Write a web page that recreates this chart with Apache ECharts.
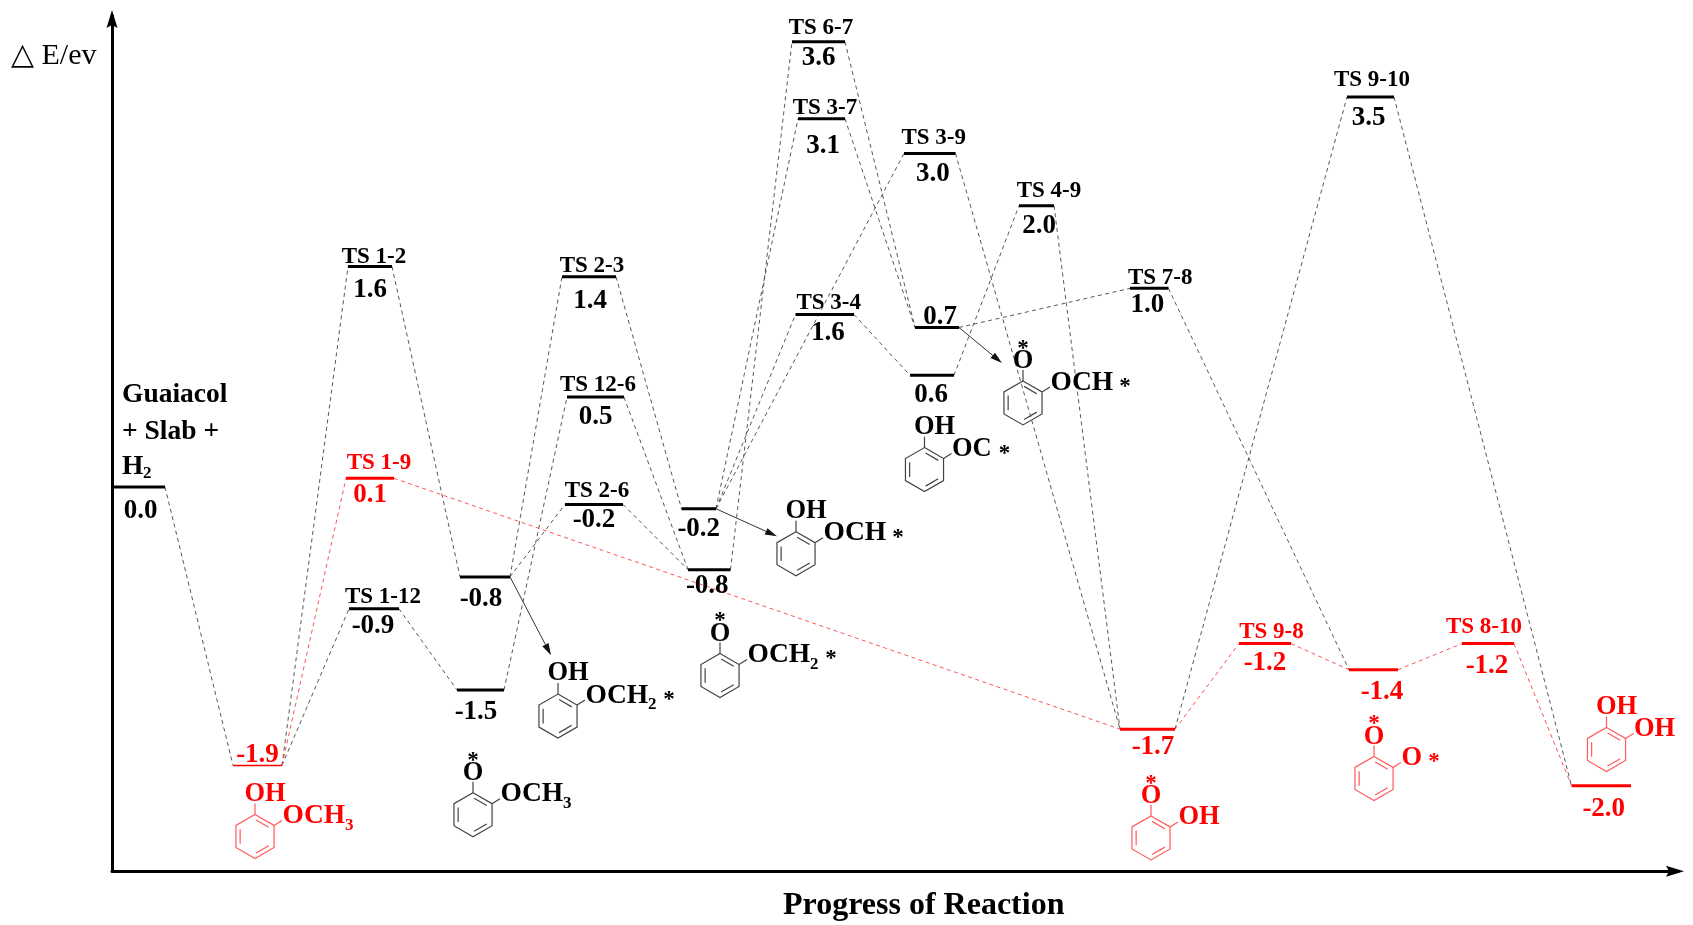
<!DOCTYPE html>
<html>
<head>
<meta charset="utf-8">
<style>html,body{margin:0;padding:0;background:#fff}#chart{width:1693px;height:925px}</style>
<script src="https://cdn.jsdelivr.net/npm/echarts@6/dist/echarts.min.js"></script>
</head>
<body>
<div id="chart"></div>
<script>
// ---------- data ----------
const levelIds = ['G','S1','TS12','TS19','TS112','S2','S12','TS23','TS126','TS26','S3','S6','TS67','TS37','TS39','TS34','S7','S4','TS49','TS78','S9','TS98','S8','TS810','TS910','S10'];
const levelNames = ['','','TS 1-2','TS 1-9','TS 1-12','','','TS 2-3','TS 12-6','TS 2-6','','','TS 6-7','TS 3-7','TS 3-9','TS 3-4','','','TS 4-9','TS 7-8','','TS 9-8','','TS 8-10','TS 9-10',''];
const energyTexts = ['0.0','-1.9','1.6','0.1','-0.9','-0.8','-1.5','1.4','0.5','-0.2','-0.2','-0.8','3.6','3.1','3.0','1.6','0.7','0.6','2.0','1.0','-1.7','-1.2','-1.4','-1.2','3.5','-2.0'];
const progressStart = [0,121,236,234,237,348,345,450,455,453,569.5,576,680,686,792,683.5,803,798,907,1018,1008,1127,1237,1350,1235,1459.5];
const progressEnd = [53,170,280,282,287,398,392,504,512,511,604,618.5,733,733,843.5,742,847,842,942,1056.5,1063,1179,1286,1402,1282,1519];
const drawnEnergy = [0,-1.92,1.52,0.06,-0.84,-0.62,-1.40,1.45,0.62,-0.12,-0.15,-0.57,3.07,2.54,2.30,1.19,1.10,0.77,1.94,1.37,-1.67,-1.08,-1.26,-1.08,2.69,-2.06];
const redLevels = ['S1','TS19','S9','TS98','S8','TS810','S10'];

const blackEdgeFrom = ['G','S1','S1','TS112','TS12','S2','S2','S12','TS23','TS26','TS126','S3','S3','S3','S6','TS67','TS37','TS34','TS39','S4','TS49','S7','TS78','S9','TS910'];
const blackEdgeTo   = ['S1','TS12','TS112','S12','S2','TS23','TS26','TS126','S3','S6','S6','TS37','TS34','TS39','TS67','S7','S7','S4','S9','TS49','S9','TS78','S8','TS910','S10'];
const redEdgeFrom = ['S1','TS19','S9','TS98','S8','TS810'];
const redEdgeTo   = ['TS19','S9','TS98','S8','TS810','S10'];

const moleculeX = [143,361,446,608,684,812.5,911,1039,1262,1494.5];
const moleculeY = [-2.41,-2.26,-1.58,-1.30,-0.46,0.12,0.58,-2.42,-2.01,-1.81];
const moleculeTop = ['OH','O','OH','O','OH','OH','O','O','O','OH'];
const moleculeSide = ['OCH','OCH','OCH','OCH','OCH','OC','OCH','OH','O','OH'];
const moleculeSub = ['3','3','2','2','','','','','',''];
const moleculeStar = [false,false,true,true,true,true,true,false,true,false];
const moleculeRed = [true,false,false,false,false,false,false,true,true,true];

const arrowFrom = ['S2','S3','S7'];
const arrowTipX = [439,665,890];
const arrowTipY = [-1.16,-0.34,0.855];

const axisYName = '△ E/ev';
const axisXName = 'Progress of Reaction';
const startLines = ['Guaiacol','+ Slab +','H'];
const startSub = '2';

// ---------- layout (pixel offsets from each level's centre) ----------
const nameOffset = {TS12:[4,-10],TS19:[9,-15],TS112:[9,-11.5],TS23:[3,-11],TS126:[2.5,-12],TS26:[3,-13],TS67:[2.5,-13.5],TS37:[3.5,-11],TS39:[4,-15],TS34:[4,-11],TS49:[12.5,-15],TS78:[11,-10],TS98:[6.5,-12],TS810:[-4,-17],TS910:[1.5,-17]};
const valueOffset = {G:[2,24],S1:[0,-10],TS12:[0,23],TS19:[0,17],TS112:[-1,17],S2:[-4,22],S12:[-4.5,22],TS23:[1,24],TS126:[0,20],TS26:[0,16],S3:[0,20],S6:[-2,16],TS67:[0,16],TS37:[1.5,27],TS39:[3,21],TS34:[3,19],S7:[3,-10],S4:[-1,20],TS49:[2.5,20],TS78:[-2,17],S9:[5.5,18],TS98:[0,19],S8:[8.5,22],TS810:[-1,22],TS910:[-2,21],S10:[2.5,23]};
const sideStarDx = {OC:80,O:60};
const RED = '#ff0000', BLACK = '#000000', SERIF = '"Liberation Serif","Times New Roman",serif';
const EDGE_BLACK = '#444444', EDGE_RED = '#ff4040';
const RING_BLACK = '#444444', RING_RED = '#ff5a5a';

const idx = id => levelIds.indexOf(id);
function text(t, x, y, size, color, align) {
  return {type:'text', silent:true, style:{text:t, x:x, y:y, fill:color,
    font:'bold '+size+'px '+SERIF, align:align||'center', verticalAlign:'middle'}};
}
function seg(x1,y1,x2,y2,color,w,dash){
  return {type:'line', silent:true, shape:{x1,y1,x2,y2}, style:{stroke:color, lineWidth:w, lineDash:dash||null}};
}
function edgeData(from,to){
  return from.map((f,i)=>{const a=idx(f),b=idx(to[i]);return [progressEnd[a],drawnEnergy[a],progressStart[b],drawnEnergy[b]];});
}
function edgeRender(color){
  return function(p,api){
    const a=api.coord([api.value(0),api.value(1)]), b=api.coord([api.value(2),api.value(3)]);
    return seg(a[0],a[1],b[0],b[1],color,0.9,[4,3.5]);
  };
}
function levelRender(p,api){
  const i=api.value(0), id=levelIds[i];
  const a=api.coord([api.value(1),api.value(3)]), b=api.coord([api.value(2),api.value(3)]);
  const red=redLevels.includes(id), c=red?RED:BLACK, cx=(a[0]+b[0])/2, y=a[1];
  const kids=[seg(a[0],y,b[0],y,c,id==='S1'?1.5:3)];
  if(levelNames[i]){const o=nameOffset[id];kids.push(text(levelNames[i],cx+o[0],y+o[1],23,c));}
  const v=valueOffset[id];kids.push(text(energyTexts[i],cx+v[0],y+v[1],27,c));
  if(id==='G'){
    kids.push(text(startLines[0],a[0]+10,y-92,27.5,BLACK,'left'));
    kids.push(text(startLines[1],a[0]+10,y-55,27.5,BLACK,'left'));
    kids.push(text(startLines[2],a[0]+10,y-20,27.5,BLACK,'left'));
    kids.push(text(startSub,a[0]+31,y-13,17,BLACK,'left'));
  }
  return {type:'group',children:kids};
}
function moleculeRender(p,api){
  const i=api.value(0), o=api.coord([api.value(1),api.value(2)]), cx=o[0], cy=o[1];
  const red=moleculeRed[i], c=red?RED:BLACK, rc=red?RING_RED:RING_BLACK, r=22, s=r*0.866;
  const v=[[0,-r],[s,-r/2],[s,r/2],[0,r],[-s,r/2],[-s,-r/2]].map(q=>[cx+q[0],cy+q[1]]);
  const kids=[{type:'polygon',silent:true,shape:{points:v},style:{fill:'none',stroke:rc,lineWidth:1.2}}];
  [[4,5],[0,1],[2,3]].forEach(pair=>{
    const f=0.78;
    const A=v[pair[0]], B=v[pair[1]];
    const ax=cx+(A[0]-cx)*f, ay=cy+(A[1]-cy)*f, bx=cx+(B[0]-cx)*f, by=cy+(B[1]-cy)*f;
    const mx=(ax+bx)/2, my=(ay+by)/2;
    kids.push(seg(mx+(ax-mx)*0.85,my+(ay-my)*0.85,mx+(bx-mx)*0.85,my+(by-my)*0.85,rc,1.2));
  });
  kids.push(seg(v[0][0],v[0][1],cx,cy-r-11,rc,1.2));
  kids.push(seg(v[1][0],v[1][1],cx+27,cy-r/2-5,rc,1.2));
  const top=moleculeTop[i], side=moleculeSide[i];
  if(top==='OH'){kids.push(text('OH',cx+10,cy-42.5,26.5,c));}
  else{kids.push(text('O',cx,cy-41.5,26.5,c));kids.push(text('*',cx,cy-54,23,c));}
  kids.push(text(side,cx+27.5,cy-20.5,side==='OCH'?27.5:26.5,c,'left'));
  if(moleculeSub[i]){kids.push(text(moleculeSub[i],cx+90,cy-11,17,c,'left'));}
  if(moleculeStar[i]){
    const dx=moleculeSub[i]?111:(side==='OCH'?102:sideStarDx[side]);
    kids.push(text('*',cx+dx,cy-16,23,c));
  }
  return {type:'group',children:kids};
}
function arrowRender(p,api){
  const a=api.coord([api.value(0),api.value(1)]), b=api.coord([api.value(2),api.value(3)]);
  const dx=b[0]-a[0], dy=b[1]-a[1], L=Math.hypot(dx,dy), ux=dx/L, uy=dy/L, h=12, w=3.5;
  const bx=b[0]-ux*h, by=b[1]-uy*h;
  return {type:'group',children:[
    seg(a[0],a[1],bx,by,'#333333',1),
    {type:'polygon',silent:true,shape:{points:[[b[0],b[1]],[bx-uy*w,by+ux*w],[bx+uy*w,by-ux*w]]},style:{fill:'#111111'}}
  ]};
}
// the two arrow heads closing the axes, drawn at their tip values
function axisHeadRender(p,api){
  const b=api.coord([api.value(0),api.value(1)]), ux=api.value(2), uy=api.value(3), h=18, w=5.5, n=15;
  const bx=b[0]-ux*h, by=b[1]-uy*h;
  return {type:'polygon',silent:true,shape:{points:[[b[0],b[1]],[bx-uy*w,by+ux*w],[b[0]-ux*n,b[1]-uy*n],[bx+uy*w,by-ux*w]]},style:{fill:'#000000'}};
}
const axisHeads = [[1572,-2.65,1,0],[0,3.29,0,-1]];
const hiddenAxisParts = {axisTick:{show:false},axisLabel:{show:false},splitLine:{show:false}};
const chart = echarts.init(document.getElementById('chart'),null,{renderer:'canvas'});
chart.setOption({
  animation:false,
  backgroundColor:'#ffffff',
  title:[
    {text:axisYName,left:6,top:36,textStyle:{fontFamily:SERIF,fontWeight:'normal',fontSize:30,color:'#000'}},
    {text:axisXName,left:778,top:885,textStyle:{fontFamily:SERIF,fontWeight:'bold',fontSize:32,color:'#000'}}
  ],
  grid:{left:112,top:15.75,width:1566,height:855.5,containLabel:false,outerBoundsMode:'none'},
  xAxis:Object.assign({type:'value',min:0,max:1566,
    axisLine:{onZero:false,lineStyle:{color:'#000',width:3}}},hiddenAxisParts),
  yAxis:Object.assign({type:'value',min:-2.65,max:3.25,
    axisLine:{onZero:false,lineStyle:{color:'#000',width:3}}},hiddenAxisParts),
  series:[
    {type:'custom',name:'axis heads',renderItem:axisHeadRender,data:axisHeads,encode:{x:0,y:1},clip:false,z:6},
    {type:'custom',name:'black paths',renderItem:edgeRender(EDGE_BLACK),data:edgeData(blackEdgeFrom,blackEdgeTo),encode:{x:[0,2],y:[1,3]},clip:false,z:2},
    {type:'custom',name:'red path',renderItem:edgeRender(EDGE_RED),data:edgeData(redEdgeFrom,redEdgeTo),encode:{x:[0,2],y:[1,3]},clip:false,z:3},
    {type:'custom',name:'arrows',renderItem:arrowRender,data:arrowFrom.map((f,i)=>[progressEnd[idx(f)],drawnEnergy[idx(f)],arrowTipX[i],arrowTipY[i]]),encode:{x:[0,2],y:[1,3]},clip:false,z:3},
    {type:'custom',name:'molecules',renderItem:moleculeRender,data:moleculeX.map((x,i)=>[i,x,moleculeY[i]]),encode:{x:1,y:2},clip:false,z:4},
    {type:'custom',name:'levels',renderItem:levelRender,data:levelIds.map((_,i)=>[i,progressStart[i],progressEnd[i],drawnEnergy[i]]),encode:{x:[1,2],y:3},clip:false,z:5}
  ]
});
</script>
</body>
</html>
